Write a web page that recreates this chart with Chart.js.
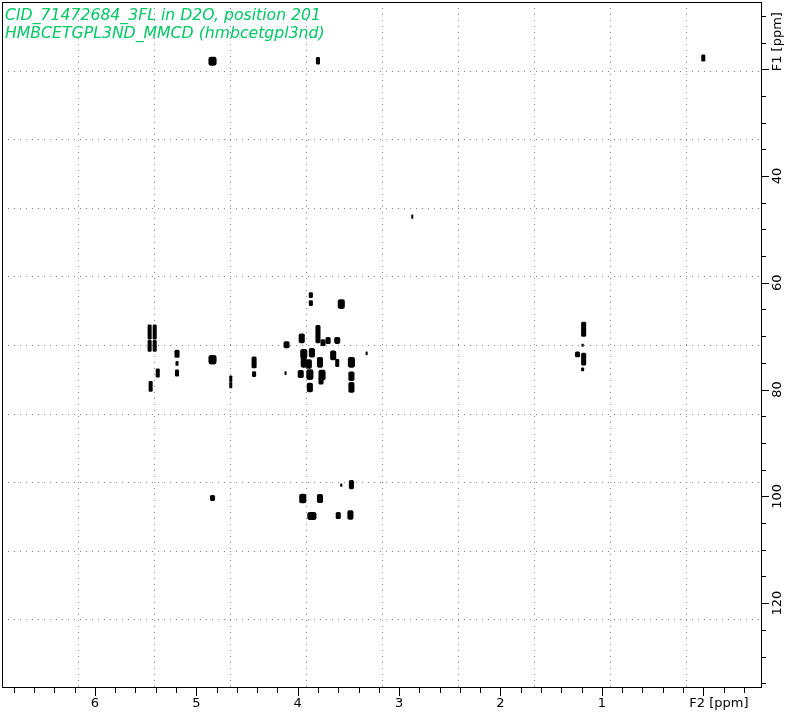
<!DOCTYPE html>
<html>
<head>
<meta charset="utf-8">
<script src="https://cdn.jsdelivr.net/npm/chart.js"></script>
<style>
    body { margin: 0; background: #fff; }
    canvas { display: block; }
</style>
</head>
<body>
<canvas id="hmbc" width="791" height="717"></canvas>

<script>
    // cross peaks: F2 (1H) and F1 (13C) shift in ppm,
    // plus rough footprint of each contour blob (ppm in each direction)
    const f2Shift = [
        4.84, 3.80, 0.00, 2.87,
        1.18, 1.19, 1.24, 1.18, 1.19,
        5.46, 5.41, 5.46, 5.41, 5.19, 5.19, 5.19, 5.38, 5.45,
        4.84, 4.43, 4.43, 4.66, 4.66,
        4.11, 3.96, 3.80, 3.75, 3.70, 3.61, 3.94, 3.86, 3.94, 3.89,
        3.78, 3.65, 3.61, 3.47, 3.32, 4.12, 3.97, 3.88, 3.76, 3.88,
        3.77, 3.47, 3.47, 3.87, 3.87, 3.57,
        4.84, 3.95, 3.78, 3.57, 3.47, 3.86, 3.60, 3.48
    ];
    const f1Shift = [
        18.5, 18.4, 17.9, 47.6,
        68.7, 71.7, 73.4, 74.3, 76.2,
        69.2, 69.2, 71.8, 71.8, 73.3, 75.1, 76.9, 76.9, 79.4,
        74.4, 74.9, 77.1, 78.0, 79.2,
        71.6, 70.4, 69.6, 71.2, 70.8, 70.8, 73.3, 73.1, 74.9, 75.2,
        74.9, 73.6, 75.0, 74.9, 73.2, 76.9, 77.1, 77.2, 77.3, 79.6,
        78.4, 77.5, 79.6, 62.3, 63.8, 64.0,
        100.3, 100.4, 100.4, 97.9, 97.8, 103.7, 103.6, 103.5
    ];
    const f2Width = [
        0.08, 0.04, 0.04, 0.02,
        0.05, 0.02, 0.05, 0.05, 0.03,
        0.04, 0.04, 0.04, 0.04, 0.05, 0.03, 0.04, 0.04, 0.04,
        0.08, 0.05, 0.04, 0.03, 0.03,
        0.06, 0.06, 0.05, 0.05, 0.05, 0.06, 0.07, 0.06, 0.06, 0.06,
        0.06, 0.06, 0.04, 0.07, 0.02, 0.02, 0.06, 0.07, 0.07, 0.06,
        0.05, 0.06, 0.06, 0.04, 0.04, 0.07,
        0.05, 0.07, 0.06, 0.02, 0.05, 0.09, 0.05, 0.06
    ];
    const f1Height = [
        1.7, 1.4, 1.3, 0.8,
        2.8, 0.6, 1.1, 2.4, 0.7,
        2.8, 2.8, 2.2, 2.2, 1.5, 0.9, 1.3, 1.7, 2.0,
        1.8, 2.2, 1.1, 1.3, 1.1,
        1.3, 1.8, 3.4, 1.3, 1.3, 1.3, 1.8, 1.8, 2.0, 1.8,
        2.0, 1.8, 1.5, 2.0, 0.7, 0.7, 1.5, 2.0, 2.0, 1.8,
        1.3, 1.8, 2.0, 1.1, 1.1, 1.8,
        1.1, 1.8, 1.7, 0.6, 1.7, 1.5, 1.3, 1.8
    ];

    const f2Labels = [6, 5, 4, 3, 2, 1];
    const f1Labels = [40, 60, 80, 100, 120];
    const titleLines = [
        'CID_71472684_3FL in D2O, position 201',
        'HMBCETGPL3ND_MMCD (hmbcetgpl3nd)'
    ];

    const axisFont = '13px "DejaVu Sans"';

    const nmrFrame = {
        id: 'nmrFrame',
        beforeDatasetsDraw(chart) {
            const { ctx, chartArea: a } = chart;
            ctx.save();
            ctx.strokeStyle = '#8a8a8a';
            ctx.lineWidth = 1;
            ctx.setLineDash([1, 5]);
            // topspin style grid: plot split in ten both ways
            for (let i = 1; i < 10; i++) {
                const gx = Math.round(a.left + i * a.width / 10) + 0.5;
                ctx.beginPath();
                ctx.moveTo(gx, a.top);
                ctx.lineTo(gx, a.bottom);
                ctx.stroke();
                const gy = Math.round(a.top + i * a.height / 10) + 0.5;
                ctx.beginPath();
                ctx.moveTo(a.left, gy);
                ctx.lineTo(a.right, gy);
                ctx.stroke();
            }
            ctx.restore();
        },
        afterDatasetsDraw(chart) {
            const { ctx, scales: { x, y } } = chart;
            const pts = chart.data.datasets[0].data;
            ctx.save();
            ctx.fillStyle = '#000';
            pts.forEach(p => {
                const cx = x.getPixelForValue(p.x);
                const cy = y.getPixelForValue(p.y);
                const rx = Math.max(1, Math.abs(x.getPixelForValue(p.x + p.w / 2) - cx));
                const ry = Math.max(1, Math.abs(y.getPixelForValue(p.y + p.h / 2) - cy));
                // contour blobs drawn as small solid rounded blocks
                ctx.beginPath();
                ctx.roundRect(cx - rx, cy - ry, rx * 2, ry * 2, Math.min(rx, ry) * 0.6);
                ctx.fill();
            });
            ctx.restore();
        },
        afterDraw(chart) {
            const { ctx, chartArea: a, scales: { x, y } } = chart;
            ctx.save();
            ctx.strokeStyle = '#000';
            ctx.lineWidth = 1;
            ctx.strokeRect(a.left + 0.5, a.top + 0.5, a.width - 1, a.height - 1);

            // F2 ticks, 0.2 ppm apart
            for (let k = Math.ceil(x.min * 5); k <= Math.floor(x.max * 5); k++) {
                const px = Math.round(x.getPixelForValue(k / 5)) + 0.5;
                const len = k % 5 === 0 ? 8 : 5;
                ctx.beginPath();
                ctx.moveTo(px, a.bottom);
                ctx.lineTo(px, a.bottom + len);
                ctx.stroke();
            }
            // F1 ticks, 5 ppm apart
            for (let k = Math.ceil(y.min / 5); k <= Math.floor(y.max / 5); k++) {
                const py = Math.round(y.getPixelForValue(k * 5)) + 0.5;
                const len = (k * 5) % 20 === 0 ? 7 : 4;
                ctx.beginPath();
                ctx.moveTo(a.right, py);
                ctx.lineTo(a.right + len, py);
                ctx.stroke();
            }

            ctx.fillStyle = '#000';
            ctx.font = axisFont;
            ctx.textBaseline = 'middle';
            ctx.textAlign = 'center';
            f2Labels.forEach(v => {
                ctx.fillText(String(v), x.getPixelForValue(v), a.bottom + 16);
            });
            ctx.textAlign = 'left';
            ctx.fillText('F2 [ppm]', x.getPixelForValue(0) - 14, a.bottom + 16);

            f1Labels.forEach(v => {
                ctx.save();
                ctx.translate(a.right + 16, y.getPixelForValue(v));
                ctx.rotate(-Math.PI / 2);
                ctx.textAlign = 'center';
                ctx.fillText(String(v), 0, 0);
                ctx.restore();
            });
            ctx.save();
            ctx.translate(a.right + 16, y.getPixelForValue(20) + 2);
            ctx.rotate(-Math.PI / 2);
            ctx.textAlign = 'left';
            ctx.fillText('F1 [ppm]', 0, 0);
            ctx.restore();

            // experiment title in the corner
            ctx.fillStyle = '#00c864';
            ctx.font = 'italic 15.7px "DejaVu Sans"';
            ctx.textAlign = 'left';
            titleLines.forEach((t, i) => {
                ctx.fillText(t, a.left + 3, a.top + 14 + i * 18);
            });
            ctx.restore();
        }
    };

    const peaks = f2Shift.map((v, i) => ({ x: v, y: f1Shift[i], w: f2Width[i], h: f1Height[i] }));

    const hmbc = new Chart(document.getElementById('hmbc'), {
        type: 'scatter',
        data: {
            datasets: [{
                label: 'HMBC',
                data: peaks,
                pointRadius: 0,
                pointHoverRadius: 0
            }]
        },
        options: {
            responsive: false,
            animation: false,
            devicePixelRatio: 1,
            layout: { padding: { left: 2, top: 2, right: 29, bottom: 29 } },
            plugins: { legend: { display: false }, tooltip: { enabled: false } },
            scales: {
                x: { type: 'linear', min: -0.579, max: 6.916, reverse: true, display: false },
                y: { type: 'linear', min: 7.4, max: 135.9, reverse: true, display: false }
            }
        },
        plugins: [nmrFrame]
    });
</script>
</body>
</html>
